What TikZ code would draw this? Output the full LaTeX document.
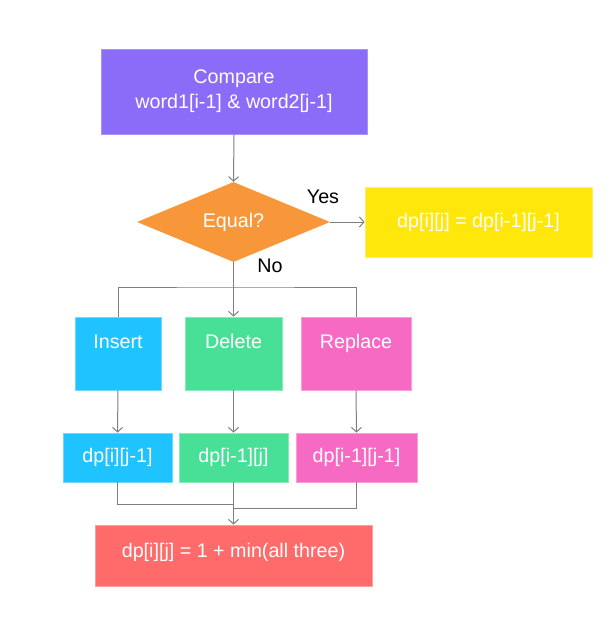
\documentclass[tikz,border=0pt]{standalone}
\usepackage{fontspec}
\setmainfont{Liberation Sans}
\usetikzlibrary{shapes.geometric,arrows.meta}
\definecolor{cpurple}{HTML}{8B6CF8}
\definecolor{cpurpleb}{HTML}{A994FA}
\definecolor{corange}{HTML}{F7973A}
\definecolor{cyellow}{HTML}{FFE70C}
\definecolor{cyellowb}{HTML}{FFEE66}
\definecolor{ccyan}{HTML}{1FC3FF}
\definecolor{ccyanb}{HTML}{6DD8FF}
\definecolor{cgreen}{HTML}{47E096}
\definecolor{cgreenb}{HTML}{86EBB9}
\definecolor{cpink}{HTML}{F76AC4}
\definecolor{cpinkb}{HTML}{FA9DD8}
\definecolor{cred}{HTML}{FF6A6A}
\definecolor{credb}{HTML}{FF9C9C}
\definecolor{cline}{HTML}{7F7F7F}
\begin{document}
\begin{tikzpicture}[x=1pt,y=-1pt,
  every node/.style={font=\fontsize{19.7}{25}\selectfont},
  box/.style={rectangle, inner sep=0pt, text=white, align=center, line width=0.8pt},
  lbl/.style={text=white, inner sep=0pt, text height=14.5pt, text depth=4.5pt, font=\fontsize{19.7}{25}\selectfont},
  conn/.style={draw=cline, line width=1pt},
  arr/.style={conn, -{Straight Barb[length=4.5pt,width=10pt,line width=1pt]}},
  tag/.style={text=black}
]
\useasboundingbox (0,0) rectangle (611,621);
\fill[white] (0,0) rectangle (611,621);

\node[box, fill=cpurple, draw=cpurpleb, minimum width=266pt, minimum height=85pt] (cmp) at (234,91.5) {Compare\\word1[i-1] \& word2[j-1]};
\node[diamond, fill=corange, inner sep=0pt, text=white, minimum width=193pt, minimum height=80pt] (eq) at (233.5,222) {Equal?};
\node[box, fill=cyellow, draw=cyellowb, minimum width=227pt, minimum height=70pt] (yes) at (478.5,222) {dp[i][j] = dp[i-1][j-1]};

\node[box, fill=ccyan, draw=ccyanb, minimum width=86pt, minimum height=73pt,
  label={[lbl, anchor=center, yshift=-27pt]north:Insert}] (ins) at (118,353.5) {};
\node[box, fill=cgreen, draw=cgreenb, minimum width=97pt, minimum height=73pt,
  label={[lbl, anchor=center, yshift=-27pt]north:Delete}] (del) at (233.5,353.5) {};
\node[box, fill=cpink, draw=cpinkb, minimum width=110pt, minimum height=73pt,
  label={[lbl, anchor=center, yshift=-27pt]north:Replace}] (rep) at (356,353.5) {};

\node[box, fill=ccyan, draw=ccyanb, minimum width=109pt, minimum height=49pt] (da) at (117.5,457.5) {dp[i][j-1]};
\node[box, fill=cgreen, draw=cgreenb, minimum width=109pt, minimum height=49pt] (db) at (233.5,457.5) {dp[i-1][j]};
\node[box, fill=cpink, draw=cpinkb, minimum width=121pt, minimum height=49pt] (dc) at (356.5,457.5) {dp[i-1][j-1]};

\node[box, fill=cred, draw=credb, minimum width=277pt, minimum height=61pt,
  label={[lbl, anchor=center, yshift=-28pt]north:dp[i][j] = 1 + min(all three)}] (res) at (233.5,555.5) {};

\coordinate (br) at (233.5,287);
\coordinate (j1) at (233.5,504);
\coordinate (j2) at (233.5,508);

\draw[arr] (cmp.south) -- (eq.north);
\draw[arr] (eq.east) -- (yes.west);
\node[tag] (yeslbl) at (323,197) {Yes};
\draw[arr] (eq.south) -- (del.north);
\node[tag] (nolbl) at (270,266) {No};
\draw[conn] (ins.north) |- (br) -| (rep.north);

\draw[arr] (ins.south) -- (da.north);
\draw[arr] (del.south) -- (db.north);
\draw[arr] (rep.south) -- (dc.north);

\draw[conn] (da.south) |- (j1);
\draw[conn] (dc.south) |- (j2);
\draw[arr] (db.south) -- (res.north);
\end{tikzpicture}
\end{document}
